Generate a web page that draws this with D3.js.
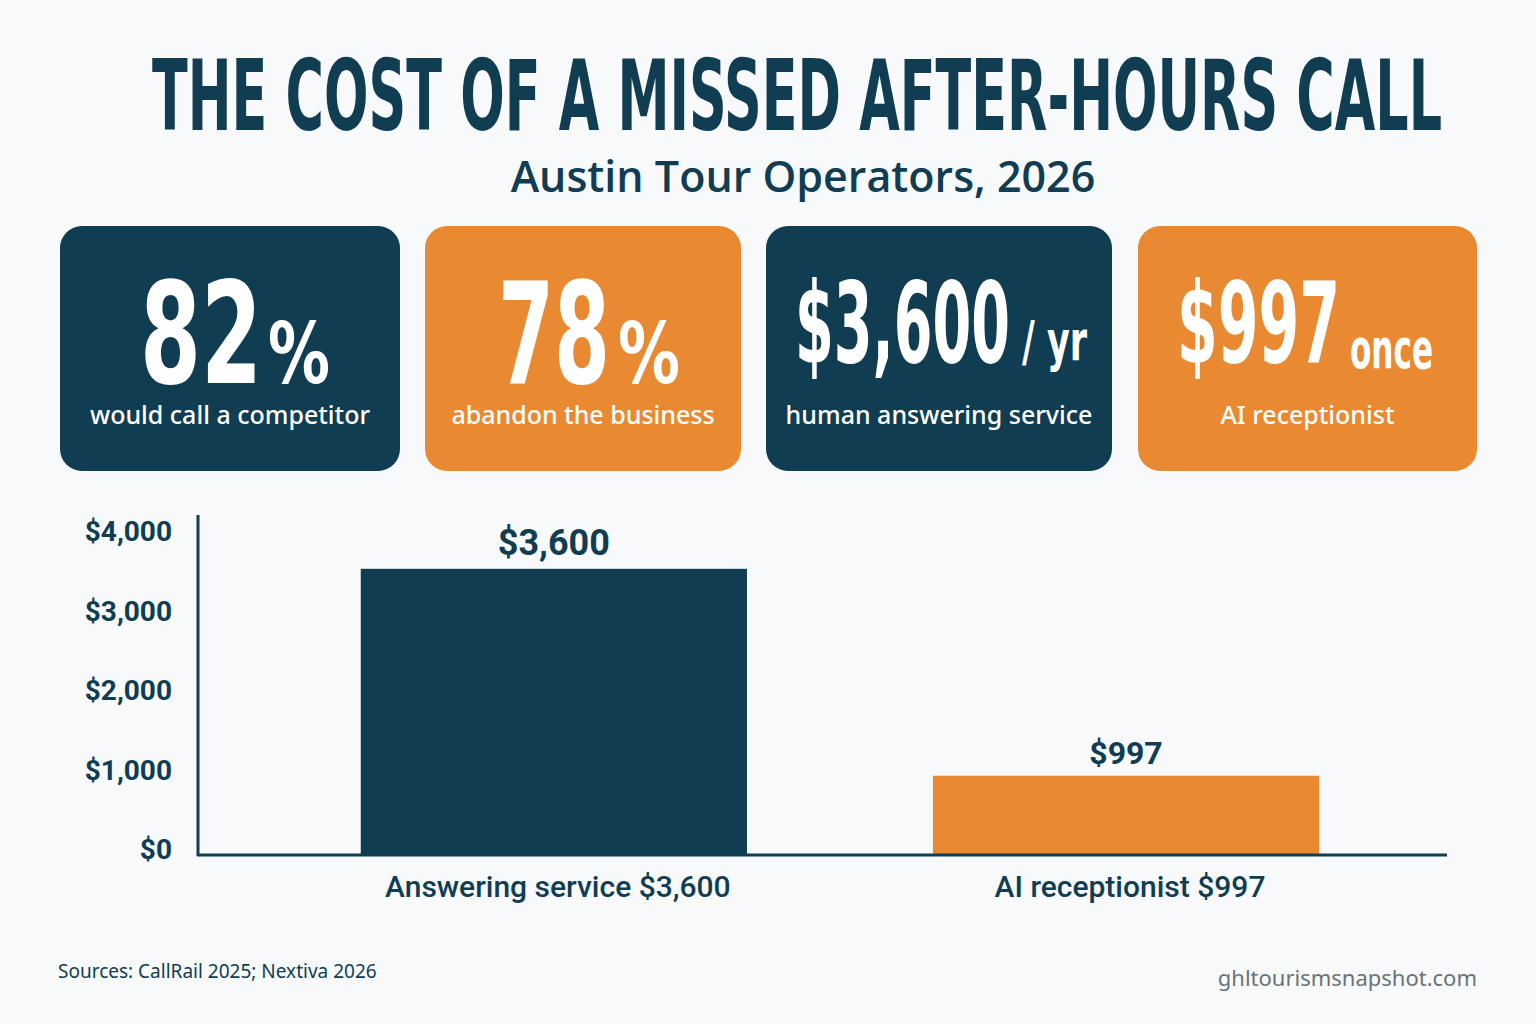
<!DOCTYPE html>
<html><head><meta charset="utf-8">
<script src="https://cdn.jsdelivr.net/npm/d3@7"></script>
<style>body{margin:0;background:#f7f9fb}</style>
</head><body>
<svg id="c" width="1536" height="1024"></svg>
<script>
const categories = ["Answering service $3,600", "AI receptionist $997"]
const values = [3600, 997]
const valueLabels = ["$3,600", "$997"]
const yTicks = [0, 1000, 2000, 3000, 4000]
const cardBig = ["82", "78", "$3,600", "$997"]
const cardSuffix = ["%", "%", "/ yr", "once"]
const cardText = ["would call a competitor", "abandon the business", "human answering service", "AI receptionist"]

const navy = "#113d52", orange = "#e98a33"
const cond = "'Liberation Sans Narrow','DejaVu Sans Condensed',sans-serif"
const svg = d3.select("#c")
svg.append("rect").attr("width", 1536).attr("height", 1024).attr("fill", "#f7f9fb")

svg.append("text").attr("x", 797).attr("y", 130).attr("text-anchor", "middle")
  .attr("font-family", cond).attr("font-weight", "bold").attr("font-size", 98)
  .attr("fill", navy).attr("textLength", 1290).attr("lengthAdjust", "spacingAndGlyphs")
  .text("THE COST OF A MISSED AFTER-HOURS CALL")
svg.append("text").attr("x", 803).attr("y", 192).attr("text-anchor", "middle")
  .attr("font-family", "'Open Sans',sans-serif").attr("font-weight", 600).attr("font-size", 43)
  .attr("fill", navy).text("Austin Tour Operators, 2026")

const cards = [[60, 400], [425, 741], [766, 1112], [1138, 1477]]
// [bigStart, bigWidth, bigSize, sufStart, sufWidth, sufSize, sufBaseline]
const cardGeom = [
  [140, 122, 140, 268, 62, 84, 383],
  [498, 112, 140, 618, 62, 84, 383],
  [795, 215, 112, 1022, 65, 56, 360],
  [1177, 163, 112, 1350, 83, 56, 368]
]
cards.forEach(([x0, x1], i) => {
  const g = svg.append("g")
  const fill = i % 2 ? orange : navy
  g.append("rect").attr("x", x0).attr("y", 226).attr("width", x1 - x0).attr("height", 245)
    .attr("rx", 22).attr("fill", fill)
  const [bx, bw, bs, sx, sw, ss, sy] = cardGeom[i]
  g.append("text").attr("x", bx).attr("y", i < 2 ? 383 : 362)
    .attr("font-family", cond).attr("font-weight", "bold").attr("fill", "#fff")
    .attr("font-size", bs).attr("textLength", bw).attr("lengthAdjust", "spacingAndGlyphs")
    .text(cardBig[i])
  g.append("text").attr("x", sx).attr("y", sy)
    .attr("font-family", cond).attr("font-weight", "bold").attr("fill", "#fff")
    .attr("font-size", ss).attr("textLength", sw).attr("lengthAdjust", "spacingAndGlyphs")
    .text(cardSuffix[i])
  g.append("text").attr("x", (x0 + x1) / 2).attr("y", 424).attr("text-anchor", "middle")
    .attr("font-family", "'Noto Sans',sans-serif").attr("font-weight", 500).attr("font-size", 25)
    .attr("fill", "#fff").text(cardText[i])
})

const y = d3.scaleLinear().domain([0, 4000]).range([855, 537])
const x = d3.scaleBand().domain(categories).range([198, 1447]).paddingInner(0.325).paddingOuter(0.254).align(0.56)

svg.selectAll(".bar").data(values).join("rect")
  .attr("x", (d, i) => x(categories[i])).attr("width", x.bandwidth())
  .attr("y", d => y(d)).attr("height", d => y(0) - y(d))
  .attr("fill", (d, i) => i ? orange : navy)

svg.selectAll(".vl").data(values).join("text")
  .attr("x", (d, i) => x(categories[i]) + x.bandwidth() / 2)
  .attr("y", (d, i) => y(d) - (i ? 12 : 14)).attr("text-anchor", "middle")
  .attr("font-family", "'Roboto',sans-serif").attr("font-weight", "bold")
  .attr("font-size", (d, i) => i ? 32 : 36).attr("fill", navy)
  .text((d, i) => valueLabels[i])

svg.selectAll(".yt").data(yTicks).join("text")
  .attr("x", 172).attr("y", d => y(d) + 4).attr("text-anchor", "end")
  .attr("font-family", "'Roboto',sans-serif").attr("font-weight", "bold")
  .attr("font-size", 28).attr("fill", navy).text(d => "$" + d3.format(",")(d))

svg.append("line").attr("x1", 198).attr("x2", 198).attr("y1", 515).attr("y2", 856)
  .attr("stroke", navy).attr("stroke-width", 3)
svg.append("line").attr("x1", 197).attr("x2", 1447).attr("y1", 855).attr("y2", 855)
  .attr("stroke", navy).attr("stroke-width", 3)

svg.selectAll(".xl").data(categories).join("text")
  .attr("x", d => x(d) + x.bandwidth() / 2 + 4).attr("y", 897).attr("text-anchor", "middle")
  .attr("font-family", "'Roboto',sans-serif").attr("font-weight", 500)
  .attr("font-size", 30).attr("fill", navy).text(d => d)

svg.append("text").attr("x", 58).attr("y", 978)
  .attr("font-family", "'Noto Sans',sans-serif").attr("font-size", 19).attr("fill", navy)
  .text("Sources: CallRail 2025; Nextiva 2026")
svg.append("text").attr("x", 1477).attr("y", 986).attr("text-anchor", "end")
  .attr("font-family", "'Noto Sans',sans-serif").attr("font-size", 22).attr("fill", "#6b7378")
  .text("ghltourismsnapshot.com")
</script>
</body></html>
